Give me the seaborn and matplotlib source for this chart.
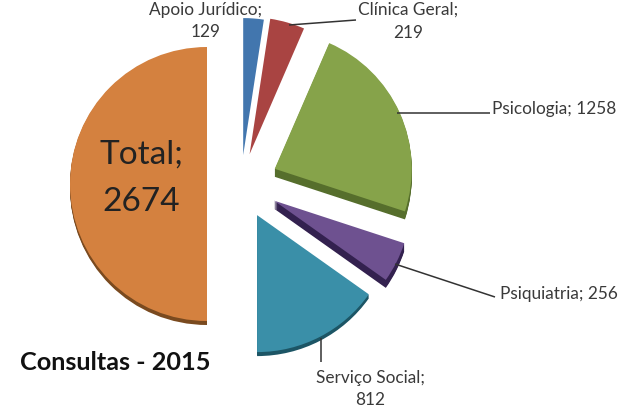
import matplotlib
matplotlib.use("Agg")
import matplotlib.pyplot as plt
import seaborn as sns

categories = ["Apoio Jurídico", "Clínica Geral", "Psicologia", "Psiquiatria", "Serviço Social", "Total"]
values = [129, 219, 1258, 256, 812, 2674]
top_colors = ["#4276AE", "#A94442", "#86A34A", "#6E5190", "#3A8FA8", "#D4813F"]
side_colors = ["#2C5480", "#7A2E2C", "#566E2C", "#33214F", "#1C5565", "#7A4A1F"]
explode_px = [29, 31, 37, 37, 35, 34]
depths = [0, 0, 8, 8, 4, 4]
title = "Consultas - 2015"

sns.set_theme(style="white")
plt.rcParams["font.family"] = ["Lato", "DejaVu Sans"]

W, H = 638, 411
fig = plt.figure(figsize=(6.38, 4.11), dpi=100, facecolor="white")
ax = fig.add_axes([0, 0, 1, 1])

R = 137
cx, cy = 241, H - 184

# Extruded side: one dark pie per depth step, only for slices that deep
for step in range(8, 0, -1):
    cols = [s if step <= d else (0, 0, 0, 0) for s, d in zip(side_colors, depths)]
    ax.pie(values, explode=explode_px, colors=cols, startangle=90, counterclock=False,
           radius=R, center=(cx, cy - step), wedgeprops=dict(linewidth=0))
ax.pie(values, explode=explode_px, colors=top_colors, startangle=90, counterclock=False,
       radius=R, center=(cx, cy), wedgeprops=dict(linewidth=0))

ax.set_xlim(0, W)
ax.set_ylim(0, H)
ax.set_aspect("equal")
ax.axis("off")


def py(y):
    return H - y


# Leader lines
leaders = [((289, 25), (356, 20)), ((397, 113), (490, 113)),
           ((395, 264), (495, 297)), ((321, 338), (321, 362))]
for (x0, y0), (x1, y1) in leaders:
    ax.plot([x0, x1], [py(y0), py(y1)], color="#333333", lw=1.1, solid_capstyle="butt")

txt = "#3a3a3a"
fs = 12.4
ax.text(206, py(10), f"{categories[0]};", ha="center", va="center", fontsize=fs, color=txt)
ax.text(206, py(32), str(values[0]), ha="center", va="center", fontsize=fs, color=txt)
ax.text(408, py(10), f"{categories[1]};", ha="center", va="center", fontsize=fs, color=txt)
ax.text(408, py(33), str(values[1]), ha="center", va="center", fontsize=fs, color=txt)
ax.text(492, py(109), f"{categories[2]}; {values[2]}", ha="left", va="center", fontsize=fs, color=txt)
ax.text(500, py(294), f"{categories[3]}; {values[3]}", ha="left", va="center", fontsize=fs, color=txt)
ax.text(370, py(378), f"{categories[4]};", ha="center", va="center", fontsize=fs, color=txt)
ax.text(370, py(400), str(values[4]), ha="center", va="center", fontsize=fs, color=txt)
ax.text(141, py(155), f"{categories[5]};", ha="center", va="center", fontsize=24, color="#222222")
ax.text(141, py(202), str(values[5]), ha="center", va="center", fontsize=24, color="#222222")
ax.text(20, py(362), title, ha="left", va="center", fontsize=18.2, fontweight="bold", color="#111111")

fig.savefig("out.png", dpi=100, facecolor="white")
